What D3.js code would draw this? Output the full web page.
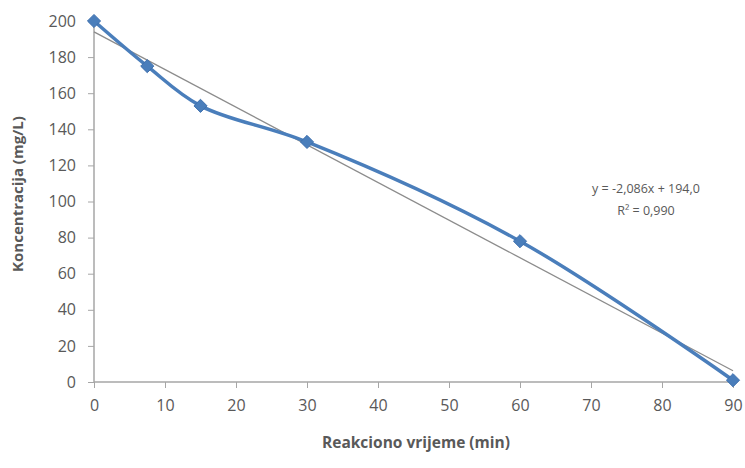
<!DOCTYPE html>
<html>
<head>
<meta charset="utf-8">
<script src="https://cdn.jsdelivr.net/npm/d3@7"></script>
<style>
  body { margin: 0; background: #fff; }
  text { font-family: "Open Sans", "Liberation Sans", sans-serif; fill: #595959; }
</style>
</head>
<body>
<div class="chart"></div>
<script>
var times = [0, 7.5, 15, 30, 60, 90];
var conc = [200, 175, 153, 133, 78, 1];
var xTicks = [0, 10, 20, 30, 40, 50, 60, 70, 80, 90];
var yTicks = [0, 20, 40, 60, 80, 100, 120, 140, 160, 180, 200];
var slope = -2.086, intercept = 194.0;
var eqLines = ["y = -2,086x + 194,0", "R² = 0,990"];

var width = 745, height = 468;
var margin = {top: 21, right: 12, bottom: 86, left: 94};

var svg = d3.select(".chart").append("svg")
    .attr("width", width)
    .attr("height", height);

var x = d3.scaleLinear().domain([0, 90]).range([margin.left, width - margin.right]);
var y = d3.scaleLinear().domain([0, 200]).range([height - margin.bottom, margin.top]);

// axes
var xAxis = svg.append("g")
    .attr("transform", "translate(0," + y(0) + ")")
    .call(d3.axisBottom(x).tickValues(xTicks).tickSize(6).tickPadding(12));
var yAxis = svg.append("g")
    .attr("transform", "translate(" + x(0) + ",0)")
    .call(d3.axisLeft(y).tickValues(yTicks).tickSize(6).tickPadding(12));

[xAxis, yAxis].forEach(function(a) {
  a.select(".domain").attr("stroke", "#a6a6a6").attr("stroke-width", 1.5);
  a.selectAll(".tick line").attr("stroke", "#a6a6a6");
  a.selectAll(".tick text").attr("font-size", 16).attr("fill", "#595959");
});
xAxis.select(".domain").attr("d", "M" + x(0) + ",0H" + x(90));
yAxis.select(".domain").attr("d", "M0," + y(0) + "V" + y(200));

// trend line
svg.append("line")
    .attr("x1", x(0)).attr("y1", y(intercept))
    .attr("x2", x(90)).attr("y2", y(intercept + slope * 90))
    .attr("stroke", "#8c8c8c")
    .attr("stroke-width", 1.3);

// data curve
var data = times.map(function(t, i) { return {t: t, c: conc[i]}; });
var line = d3.line()
    .x(function(d) { return x(d.t); })
    .y(function(d) { return y(d.c); })
    .curve(d3.curveCatmullRom.alpha(0.5));

svg.append("path")
    .datum(data)
    .attr("fill", "none")
    .attr("stroke", "#4a7ebb")
    .attr("stroke-width", 3.5)
    .attr("d", line);

svg.selectAll(".pt")
    .data(data)
    .enter().append("path")
    .attr("class", "pt")
    .attr("transform", function(d) { return "translate(" + x(d.t) + "," + y(d.c) + ")"; })
    .attr("d", d3.symbol().type(d3.symbolDiamond2).size(110))
    .attr("fill", "#4a7ebb")
    .attr("stroke", "#3d6fae")
    .attr("stroke-width", 1);

// equation
svg.append("g")
    .attr("font-size", 12.5)
    .attr("text-anchor", "middle")
    .selectAll("text")
    .data(eqLines)
    .enter().append("text")
    .attr("x", 646)
    .attr("y", function(d, i) { return 193 + i * 22; })
    .text(function(d) { return d; });

// axis titles
svg.append("text")
    .attr("x", 416)
    .attr("y", 448)
    .attr("text-anchor", "middle")
    .attr("font-size", 15.5)
    .attr("font-weight", "bold")
    .attr("fill", "#404040")
    .text("Reakciono vrijeme (min)");

svg.append("text")
    .attr("transform", "translate(23,194) rotate(-90)")
    .attr("text-anchor", "middle")
    .attr("font-size", 15)
    .attr("font-weight", "bold")
    .attr("fill", "#404040")
    .text("Koncentracija (mg/L)");
</script>
</body>
</html>
